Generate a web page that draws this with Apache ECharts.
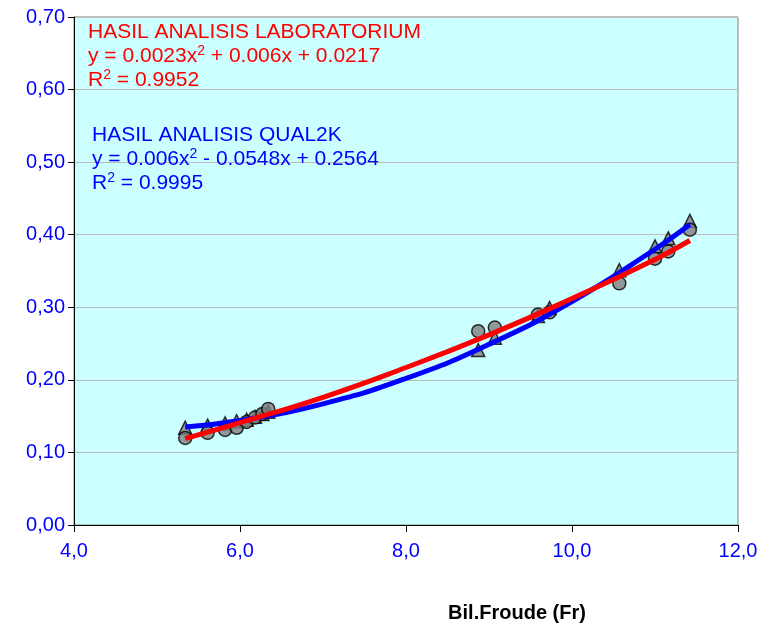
<!DOCTYPE html>
<html>
<head>
<meta charset="utf-8">
<script src="https://cdn.jsdelivr.net/npm/echarts@6/dist/echarts.min.js"></script>
<style>
  html, body { margin: 0; padding: 0; background: #fff; }
  #chart { width: 770px; height: 628px; }
</style>
</head>
<body>
<div id="chart"></div>
<script>
// Bilangan Froude pada tiap titik
var froude = [5.34, 5.61, 5.82, 5.96, 6.08, 6.18, 6.27, 6.34, 8.87, 9.07, 9.59, 9.73, 10.57, 11.0, 11.16, 11.42];
// hasil lab (bulatan)
var labValues = [0.120, 0.127, 0.131, 0.134, 0.142, 0.148, 0.153, 0.160, 0.267, 0.272, 0.290, 0.293, 0.333, 0.367, 0.377, 0.407];
// hasil QUAL2K (segitiga)
var qualValues = [0.134, 0.137, 0.140, 0.143, 0.145, 0.149, 0.153, 0.156, 0.241, 0.258, 0.288, 0.299, 0.351, 0.384, 0.395, 0.419];

// garis trend
var trendX = [5.34, 6.0, 7.0, 8.0, 9.0, 10.0, 11.0, 11.42];
var labTrend = [0.119, 0.141, 0.176, 0.217, 0.262, 0.312, 0.366, 0.392];
var qualTrend = [0.135, 0.144, 0.167, 0.202, 0.249, 0.308, 0.380, 0.414];

function pairs(xs, ys) {
  var out = [];
  for (var i = 0; i < xs.length; i++) out.push([xs[i], ys[i]]);
  return out;
}

var chart = echarts.init(document.getElementById('chart'));
var font = 'Liberation Sans, Arial, sans-serif';

var option = {
  animation: false,
  grid: {
    left: 74, right: 32, top: 17, bottom: 100,
    show: true,
    backgroundColor: '#ccffff',
    borderColor: '#808080',
    borderWidth: 1
  },
  xAxis: {
    type: 'value',
    min: 4, max: 12, interval: 2,
    name: 'Bil.Froude (Fr)',
    nameLocation: 'middle',
    nameGap: 78,
    nameTextStyle: { fontFamily: font, fontWeight: 'bold', fontSize: 20, color: '#000', padding: [0, 0, 0, 222] },
    axisLine: { lineStyle: { color: '#000', width: 1 } },
    axisTick: { show: true, inside: false, length: 7, lineStyle: { color: '#000' } },
    splitLine: { show: false },
    axisLabel: {
      color: '#0000ff', fontFamily: font, fontSize: 20, margin: 16,
      formatter: function (v) { return v.toFixed(1).replace('.', ','); }
    }
  },
  yAxis: {
    type: 'value',
    min: 0, max: 0.7, interval: 0.1,
    axisLine: { show: true, lineStyle: { color: '#000', width: 1 } },
    axisTick: { show: true, inside: false, length: 6, lineStyle: { color: '#000' } },
    splitLine: { show: true, lineStyle: { color: '#bcbcbc', width: 1 } },
    axisLabel: {
      color: '#0000ff', fontFamily: font, fontSize: 20, margin: 9,
      formatter: function (v) { return v.toFixed(2).replace('.', ','); }
    }
  },
  series: [
    {
      name: 'QUAL2K', type: 'scatter', symbol: 'triangle', symbolSize: 13,
      itemStyle: { color: '#808080', borderColor: '#000', borderWidth: 1.5 },
      data: pairs(froude, qualValues), z: 2
    },
    {
      name: 'Laboratorium', type: 'scatter', symbol: 'circle', symbolSize: 13,
      itemStyle: { color: '#808080', borderColor: '#000', borderWidth: 1.5 },
      data: pairs(froude, labValues), z: 3
    },
    {
      name: 'Trend QUAL2K', type: 'line', smooth: true, showSymbol: false,
      lineStyle: { color: '#0000ff', width: 5 },
      data: pairs(trendX, qualTrend), z: 4
    },
    {
      name: 'Trend Lab', type: 'line', smooth: true, showSymbol: false,
      lineStyle: { color: '#ff0000', width: 5 },
      data: pairs(trendX, labTrend), z: 5
    }
  ],
  graphic: [
    {
      type: 'text', left: 88, top: 20, z: 10,
      style: {
        text: 'HASIL ANALISIS LABORATORIUM\ny = 0.0023x{s|2} + 0.006x + 0.0217\nR{s|2} = 0.9952',
        fill: '#ff0000', font: '21px ' + font, lineHeight: 24,
        rich: { s: { fontSize: 14, verticalAlign: 'top', fill: '#ff0000', padding: [0, 0, 8, 0] } }
      }
    },
    {
      type: 'text', left: 92, top: 123, z: 10,
      style: {
        text: 'HASIL ANALISIS QUAL2K\ny = 0.006x{s|2} - 0.0548x + 0.2564\nR{s|2} = 0.9995',
        fill: '#0000ff', font: '21px ' + font, lineHeight: 24,
        rich: { s: { fontSize: 14, verticalAlign: 'top', fill: '#0000ff', padding: [0, 0, 8, 0] } }
      }
    }
  ]
};

chart.setOption(option);
</script>
</body>
</html>
